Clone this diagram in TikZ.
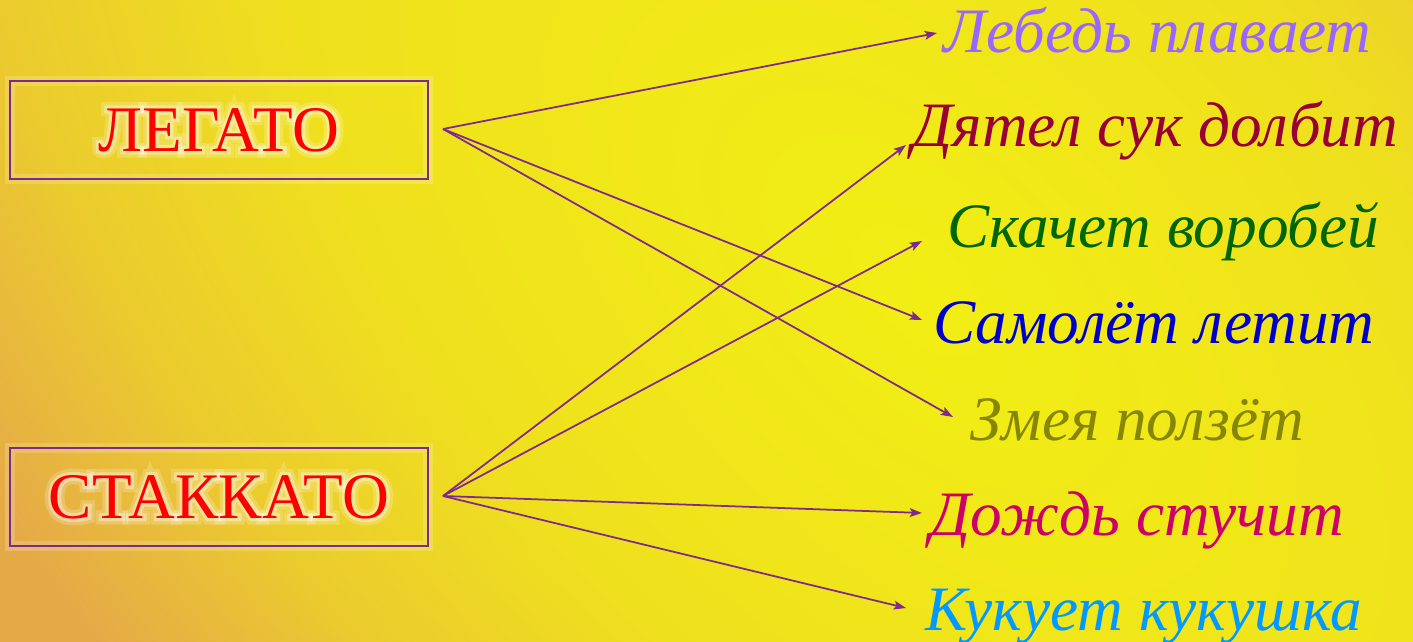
\documentclass[tikz,border=0pt]{standalone}
\usepackage{fontspec}
\setmainfont{Liberation Serif}
\newfontfamily\halofont[FakeBold=10]{Liberation Serif}
\newfontfamily\haloout[FakeBold=20]{Liberation Serif}
\usetikzlibrary{arrows.meta,calc}

\definecolor{bgcore}{HTML}{F2EE14}
\definecolor{bgmid}{HTML}{EFE01E}
\definecolor{bgwarm}{HTML}{EBCB2E}
\definecolor{bgedge}{HTML}{E5AA48}
\definecolor{linkpurple}{HTML}{7D2A8C}
\definecolor{swan}{HTML}{9966FF}
\definecolor{woodpecker}{HTML}{990033}
\definecolor{sparrow}{HTML}{006600}
\definecolor{plane}{HTML}{0000CC}
\definecolor{snake}{HTML}{868600}
\definecolor{rain}{HTML}{CC0066}
\definecolor{cuckoo}{HTML}{0099FF}
\pgfdeclareradialshading{bgglow}{\pgfpoint{0bp}{0bp}}{color(0bp)=(bgcore); color(12.5bp)=(bgmid); color(19bp)=(bgwarm); color(25bp)=(bgedge); color(50bp)=(bgedge)}

\begin{document}
\begin{tikzpicture}[x=0.02cm,y=-0.02cm,>={Stealth[length=7pt,width=5pt,inset=1.5pt]},
    box/.style={draw=linkpurple,line width=1.1pt,minimum width=8.36cm,minimum height=1.96cm,
      text=red,font=\fontsize{37}{40}\selectfont,
      preaction={draw=white,draw opacity=.18,line width=6pt}},
    halo/.style={text=white,font=\fontsize{37}{40}\selectfont},
    word/.style={anchor=base west,inner sep=0pt,font=\fontsize{36}{40}\selectfont\itshape},
    link/.style={->,draw=linkpurple,line width=1pt}]
    \useasboundingbox (0,0) rectangle (1413,642);
    % background
    \begin{scope}
      \clip (0,0) rectangle (1413,642);
      \fill[bgedge] (0,0) rectangle (1413,642);
      \begin{scope}[transform canvas={rotate around={-45:(920,290)}}]
        \shade[shading=bgglow] (920,290) ellipse [x radius=1550,y radius=850];
      \end{scope}
    \end{scope}
    % soft light round the two terms
    \node[halo,opacity=.2,font=\fontsize{37}{40}\haloout] (legato-halo) at (219,130) {ЛЕГАТО};
    \node[halo,opacity=.35,font=\fontsize{37}{40}\halofont] at (219,130) {ЛЕГАТО};
    \node[halo,opacity=.2,font=\fontsize{37}{40}\haloout] (staccato-halo) at (219,497) {СТАККАТО};
    \node[halo,opacity=.35,font=\fontsize{37}{40}\halofont] at (219,497) {СТАККАТО};
    \node[box] (legato) at (219,130) {ЛЕГАТО};
    \node[box] (staccato) at (219,497) {СТАККАТО};
    \coordinate (leg-out) at (443,129);
    \coordinate (stak-out) at (443,496);

    \node[word,text=swan] (lebed) at (943,53) {Лебедь плавает};
    \node[word,text=woodpecker] (dyatel) at (912,147) {Дятел сук долбит};
    \node[word,text=sparrow] (skachet) at (947,247) {Скачет воробей};
    \node[word,text=plane] (samolet) at (933,343) {Самолёт летит};
    \node[word,text=snake] (zmeya) at (970,440) {Змея ползёт};
    \node[word,text=rain] (dozhd) at (930,535) {Дождь стучит};
    \node[word,text=cuckoo] (kukuet) at (925,630) {Кукует кукушка};

    \coordinate (lebed-in) at (937,33);
    \coordinate (dyatel-in) at (906,145);
    \coordinate (skachet-in) at (922,241);
    \coordinate (samolet-in) at (922,320);
    \coordinate (zmeya-in) at (953,417);
    \coordinate (dozhd-in) at (922,513);
    \coordinate (kukuet-in) at (906,608);

    \draw[link] (leg-out) -- (lebed-in);
    \draw[link] (leg-out) -- (samolet-in);
    \draw[link] (leg-out) -- (zmeya-in);
    \draw[link] (stak-out) -- (dyatel-in);
    \draw[link] (stak-out) -- (skachet-in);
    \draw[link] (stak-out) -- (dozhd-in);
    \draw[link] (stak-out) -- (kukuet-in);
\end{tikzpicture}
\end{document}
